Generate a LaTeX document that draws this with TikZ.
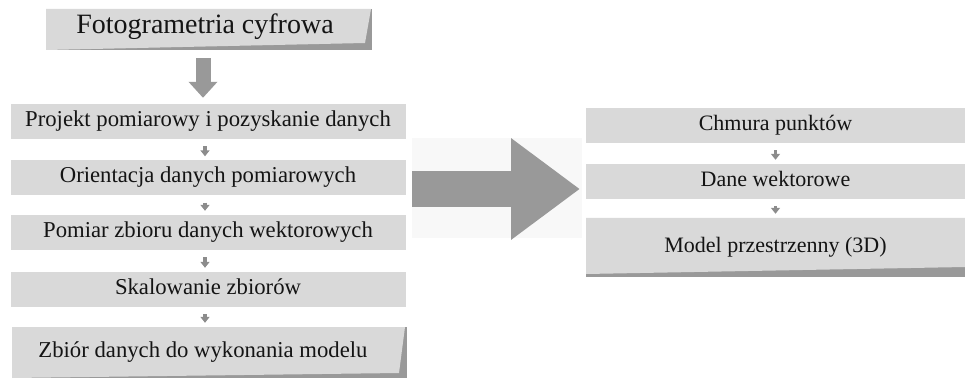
\documentclass[tikz,border=0pt]{standalone}
\usepackage{fontspec}
\setmainfont{Liberation Serif}
\usetikzlibrary{arrows.meta}
\definecolor{boxlight}{HTML}{D9D9D9}
\definecolor{boxdark}{HTML}{999999}
\definecolor{arrowgrey}{HTML}{999999}
\definecolor{smallgrey}{HTML}{8C8C8C}
\definecolor{txt}{HTML}{141414}
\definecolor{faint}{HTML}{F8F8F8}
\tikzset{
  lbox/.style={minimum width=395pt, minimum height=35pt, inner sep=0pt, fill=boxlight,
    font=\fontsize{22.7}{25}\selectfont, text=txt, text height=0.95em, text depth=0pt},
  rbox/.style={minimum width=379pt, minimum height=35pt, inner sep=0pt, fill=boxlight,
    font=\fontsize{22}{25}\selectfont, text=txt, text height=0.95em, text depth=0pt},
  smallarrow/.style={draw=smallgrey, line width=3.5pt,
    -{Triangle[width=9pt,length=6pt]}, shorten <=7pt, shorten >=4pt},
}
\begin{document}
\begin{tikzpicture}[x=1pt,y=-1pt]
\useasboundingbox (0,0) rectangle (965,379);
% faint background behind the big arrow
\fill[faint] (412,138) rectangle (582,238);

% curled boxes: dark backing + light face
\fill[boxdark] (46,9) rectangle (372,50);
\fill[boxlight] (46,9) -- (371,9) -- (365,43) -- (46,50) -- cycle;
\fill[boxdark] (12,327) rectangle (407,378);
\fill[boxlight] (12,327) -- (405,327) -- (399,373) -- (12,378) -- cycle;
\fill[boxdark] (586,218) rectangle (965,277);
\fill[boxlight] (586,218) -- (965,218) -- (965,267) -- (586,274) -- cycle;

% title
\node[minimum width=326pt, minimum height=41pt, inner sep=0pt,
  font=\fontsize{28}{31}\selectfont, text=txt, text height=0.85em, text depth=0pt]
  (title) at (205,29.5) {Fotogrametria cyfrowa};

% left column
\node[lbox] (b1) at (208,121.5) {Projekt pomiarowy i pozyskanie danych};
\node[lbox] (b2) at (208,178) {Orientacja danych pomiarowych};
\node[lbox] (b3) at (208,232.5) {Pomiar zbioru danych wektorowych};
\node[lbox] (b4) at (208,289.5) {Skalowanie zbiorów};
\node[lbox, fill=none, minimum height=51pt] (b5) at (203,352.5) {Zbiór danych do wykonania modelu};

% right column
\node[rbox] (r1) at (775.5,125.5) {Chmura punktów};
\node[rbox] (r2) at (775.5,181.5) {Dane wektorowe};
\node[rbox, fill=none, minimum height=59pt] (r3) at (775.5,247.5) {Model przestrzenny (3D)};

% big down arrow
\draw[draw=arrowgrey, line width=15pt, -{Triangle[width=28pt,length=16pt]},
  shorten <=8pt, shorten >=6pt] ([xshift=-2pt]title.south) -- ([xshift=-5pt]b1.north);

% small arrows
\draw[smallarrow] ([xshift=-3pt]b1.south) -- ([xshift=-3pt]b2.north);
\draw[smallarrow] ([xshift=-3pt]b2.south) -- ([xshift=-3pt]b3.north);
\draw[smallarrow] ([xshift=-3pt]b3.south) -- ([xshift=-3pt]b4.north);
\draw[smallarrow] ([xshift=-3pt]b4.south) -- ([xshift=2pt]b5.north);
\draw[smallarrow] (r1.south) -- (r2.north);
\draw[smallarrow] (r2.south) -- (r3.north);

% big right arrow
\coordinate (bigL) at (412,189);
\coordinate (bigR) at (580,189);
\draw[draw=arrowgrey, line width=36pt, -{Triangle[width=97pt,length=69pt]}] (bigL) -- (bigR);
\end{tikzpicture}
\end{document}
